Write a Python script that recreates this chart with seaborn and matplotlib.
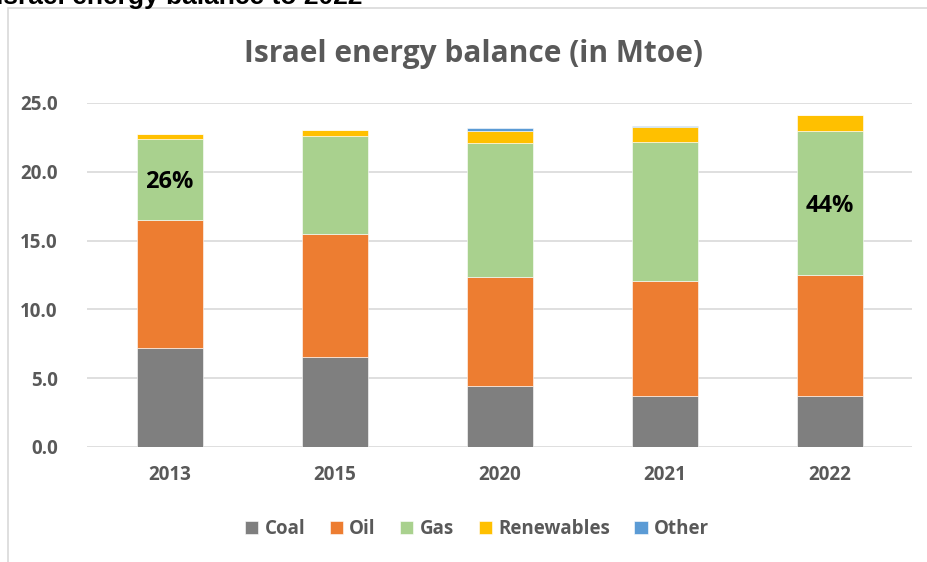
import matplotlib
matplotlib.use("Agg")
import matplotlib.pyplot as plt
import seaborn as sns
import pandas as pd
import numpy as np
from matplotlib.patches import Rectangle

years = ["2013", "2015", "2020", "2021", "2022"]
coal = [7.16, 6.55, 4.40, 3.72, 3.74]
oil = [9.34, 8.95, 7.95, 8.34, 8.76]
gas = [5.87, 7.09, 9.73, 10.14, 10.45]
renewables = [0.39, 0.46, 0.92, 1.05, 1.17]
other = [0.0, 0.0, 0.17, 0.11, 0.04]
series_names = ["Coal", "Oil", "Gas", "Renewables", "Other"]
colors = ["#7F7F7F", "#ED7D31", "#A9D18E", "#FFC000", "#5B9BD5"]
gas_labels = {"2013": "26%", "2022": "44%"}

sns.set_theme(style="white")
plt.rcParams["font.family"] = ["Open Sans", "DejaVu Sans"]

W, H = 927, 562
fig = plt.figure(figsize=(W / 100, H / 100), dpi=100)

# chart frame (cropped screenshot)
fig.patches.append(Rectangle((8 / W, -0.1), 2, (H - 8) / H + 0.1, transform=fig.transFigure,
                             fill=False, edgecolor="#D9D9D9", linewidth=1.2, zorder=0))
# cut-off heading above the chart
head = fig.text(0, 1 - 4 / H, "Israel energy balance to 2022", fontsize=19, fontweight="bold",
                color="black", family=["Liberation Sans"], ha="left", va="baseline")
fig.canvas.draw()
bb = head.get_window_extent(renderer=fig.canvas.get_renderer())
head.set_x((362 - bb.width) / W)

ax = fig.add_axes([87 / W, (H - 447) / H, 825 / W, 344 / H])

df = pd.DataFrame({"Year": years, "Coal": coal, "Oil": oil, "Gas": gas,
                   "Renewables": renewables, "Other": other})
bottom = np.zeros(len(years))
for name, col in zip(series_names, colors):
    sns.barplot(data=df, x="Year", y=name, order=years, bottom=bottom, color=col,
                width=0.4, ax=ax, label=name, edgecolor="white", linewidth=0.4,
                saturation=1, zorder=3)
    if name == "Gas":
        for i, yr in enumerate(years):
            if yr in gas_labels:
                ax.text(i, bottom[i] + df[name][i] / 2 - 0.2, gas_labels[yr], ha="center",
                        va="center", fontsize=17, fontweight="bold", color="black", zorder=5)
    bottom = bottom + df[name].values

ax.set_ylim(0, 25)
ax.set_xlim(-0.5, 4.5)
ax.set_yticks(np.arange(0, 25.1, 5))
ax.set_yticklabels([f"{v:.1f}" for v in np.arange(0, 25.1, 5)])
ax.yaxis.grid(True, color="#D9D9D9", linewidth=1.2, zorder=0)
ax.set_axisbelow(True)
for s in ax.spines.values():
    s.set_visible(False)
ax.set_xlabel("")
ax.set_ylabel("")
ax.tick_params(axis="y", length=0, pad=21, labelsize=13.5, labelcolor="#595959")
ax.tick_params(axis="x", length=0, pad=13, labelsize=13.5, labelcolor="#595959")
for lab in ax.get_xticklabels() + ax.get_yticklabels():
    lab.set_fontweight("bold")

fig.text(473 / W, 1 - 54 / H, "Israel energy balance (in Mtoe)", fontsize=21.5, fontweight="bold",
         color="#595959", ha="center", va="center")

leg = ax.legend(loc="center", bbox_to_anchor=(477 / W, 1 - 529 / H), bbox_transform=fig.transFigure,
                ncol=5, frameon=False, fontsize=13.5, handlelength=0.7, handleheight=0.7,
                handletextpad=0.35, columnspacing=1.3)
for t in leg.get_texts():
    t.set_fontweight("bold")
    t.set_color("#595959")

fig.savefig("out.png", dpi=100, facecolor="white")
